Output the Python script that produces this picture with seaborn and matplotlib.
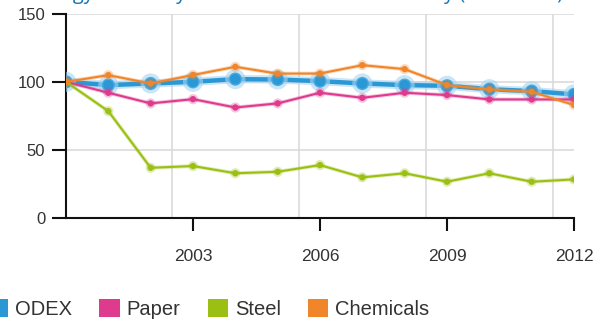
import matplotlib
matplotlib.use("Agg")
import matplotlib.pyplot as plt
import matplotlib.patheffects as pe
from matplotlib.patches import Patch
import numpy as np
import pandas as pd
import seaborn as sns

years = list(range(2000, 2013))
odex = [100, 97.6, 98.8, 100, 102, 101.7, 100.5, 98.8, 97.6, 97.1, 94.6, 93.2, 90.8]
paper = [100, 92, 84.2, 87.3, 81.2, 84.2, 92, 88.3, 92, 90.3, 87.1, 87.1, 87.1]
steel = [100, 78.5, 37, 38.3, 33, 34.1, 39, 30, 33, 26.8, 33, 26.8, 28.5]
chemicals = [100, 104.9, 98.8, 105, 111, 106, 106.1, 112.2, 109.3, 97.6, 94.4, 92.7, 83]

series_names = ["ODEX", "Paper", "Steel", "Chemicals"]
colors = {"ODEX": "#2b98d6", "Paper": "#de3a8e", "Steel": "#9bc013", "Chemicals": "#f0852a"}
x_ticks = [2003, 2006, 2009, 2012]
y_ticks = [0, 50, 100, 150]
x_grid = [2002.5, 2005.5, 2008.5, 2011.5]
title = "Energy efficiency index for the whole industry (2000=100)"

df = pd.DataFrame({"year": years, "ODEX": odex, "Paper": paper,
                   "Steel": steel, "Chemicals": chemicals})
long = df.melt(id_vars="year", var_name="series", value_name="value")

sns.set_style("white")
plt.rcParams["font.family"] = ["Liberation Sans", "DejaVu Sans"]

fig = plt.figure(figsize=(6.08, 3.2), dpi=100)
ax = fig.add_axes([66 / 608, (320 - 218.3) / 320, (574 - 66) / 608, (218.3 - 13.6) / 320])

# light grid
for v in [50, 100, 150]:
    ax.axhline(v, color="#dadada", lw=1.2, zorder=0)
for gx in x_grid:
    ax.axvline(gx, color="#dadada", lw=1.2, zorder=0)

# ODEX: thick line with a soft halo
sns.lineplot(data=long[long.series == "ODEX"], x="year", y="value", ax=ax,
             color=colors["ODEX"], lw=3.2, marker="o", markersize=8.5,
             markeredgecolor="#4aaae2", markeredgewidth=1.0, zorder=3,
             path_effects=[pe.Stroke(linewidth=6, foreground="#a6d5f1", alpha=0.6), pe.Normal()])

for name in ["Paper", "Steel", "Chemicals"]:
    sns.lineplot(data=long[long.series == name], x="year", y="value", ax=ax,
                 color=colors[name], lw=1.5, marker="o", markersize=4.5,
                 markeredgewidth=0, zorder=4,
                 path_effects=[pe.Stroke(linewidth=2.8, foreground=colors[name], alpha=0.3), pe.Normal()])

ax.set_xlim(2000, 2012)
ax.set_ylim(0, 150)
ax.set_xticks(x_ticks)
ax.set_yticks(y_ticks)
ax.set_xlabel("")
ax.set_ylabel("")
ax.grid(False)
for s in ["top", "right"]:
    ax.spines[s].set_visible(False)
for s in ["left", "bottom"]:
    ax.spines[s].set_color("#111111")
    ax.spines[s].set_linewidth(1.5)
ax.tick_params(axis="x", length=9, width=1.5, color="#111111", pad=13,
               labelsize=12.5, labelcolor="#333333", bottom=True)
ax.tick_params(axis="y", length=10, width=1.5, color="#111111", pad=5,
               labelsize=12, labelcolor="#333333", left=True)

fig.text(30 / 608, 1 - 4.5 / 320, title, color="#1a75b5", fontsize=14.4,
         va="bottom", ha="left", family=["Open Sans", "DejaVu Sans"])

handles = [Patch(facecolor=colors[n], edgecolor="none") for n in series_names]
fig.legend(handles, series_names, loc="center left", bbox_to_anchor=(-12 / 608, 11 / 320),
           ncol=4, frameon=False, fontsize=14.5, handlelength=1.0, handleheight=1.0,
           handletextpad=0.35, columnspacing=1.35, borderpad=0, borderaxespad=0,
           labelcolor="#333333")

fig.savefig("out.png", dpi=100)
